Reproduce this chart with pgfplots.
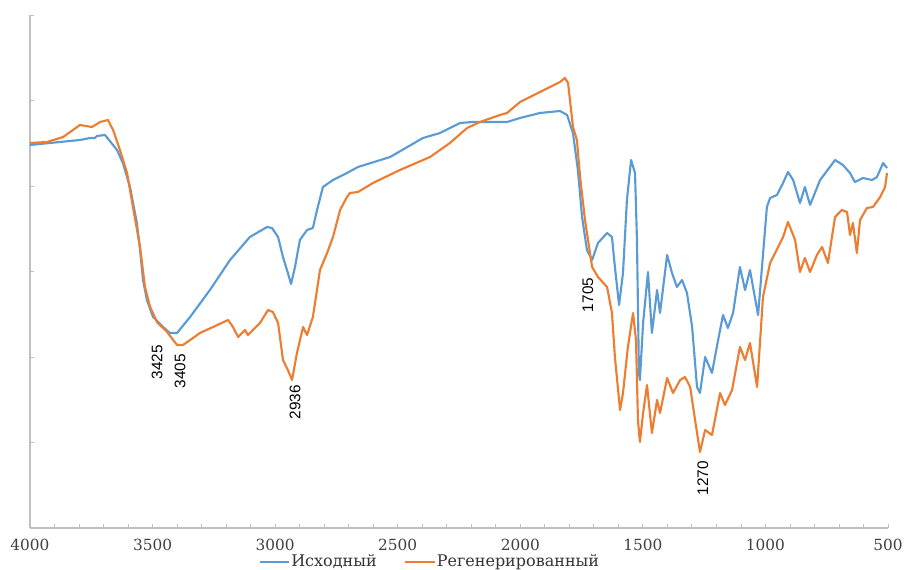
\documentclass[border=0pt]{standalone}
\usepackage{fontspec}
\setmainfont{DejaVu Serif}
\newfontfamily\peakfont{Liberation Sans}
\usepackage{pgfplots}
\pgfplotsset{compat=1.18}
\definecolor{ishod}{HTML}{5B9BD5}
\definecolor{regen}{HTML}{ED7D31}
\definecolor{axgray}{HTML}{BFBFBF}

\begin{document}
\begin{tikzpicture}
\begin{axis}[
    scale only axis,
    width=643.5pt, height=384.75pt,
    x dir=reverse,
    xmin=500, xmax=4000,
    ymin=0, ymax=513,
    axis x line*=bottom, axis y line*=left,
    axis line style={-, draw=axgray, line width=0.8pt},
    xtick={500,1000,...,4000},
    minor x tick num=4,
    ytick={0,85.5,171,256.5,342,427.5,513},
    yticklabels={},
    tick align=inside,
    major tick length=3pt, minor tick length=3pt,
    tick style={draw=axgray, line width=0.6pt},
    /pgf/number format/1000 sep={},
    /pgf/number format/assume math mode=true,
    x tick label style={font=\fontsize{11.5}{13}\selectfont, text=black!75, yshift=-4.5pt},
    legend columns=2,
    legend style={at={(axis description cs:0.466,-0.066)}, anchor=center,
        draw=none, fill=none, font=\fontsize{12}{14}\selectfont, text=black!80,
        nodes={inner xsep=1pt}},
    legend image code/.code={\draw[#1, line width=1pt] (0pt,0pt) -- (22pt,0pt);},
]
% Исходный
\addplot[color=ishod, line width=1.6pt, line join=round] coordinates {
(4000,383) (3878,386) (3796,388) (3755,390) (3735,390) (3727,392) (3694,393)
(3645,378) (3621,365) (3592,341) (3564,305) (3551,278) (3539,248) (3523,228)
(3498,211) (3457,201) (3429,195) (3400,195) (3347,211) (3266,238) (3184,268)
(3103,291) (3033,301) (3013,300) (2988,291) (2968,271) (2948,255) (2935,244)
(2919,261) (2899,288) (2870,298) (2846,300) (2829,318) (2805,341) (2764,348)
(2707,355) (2662,361) (2531,371) (2397,390) (2327,395) (2246,405) (2193,406)
(2111,406) (2054,406) (2001,410) (1920,415) (1838,417) (1809,413) (1785,395)
(1765,358) (1748,311) (1728,278) (1707,268) (1683,285) (1646,295) (1626,291)
(1614,261) (1597,223) (1581,255) (1565,328) (1548,368) (1532,355) (1524,288)
(1516,155) (1512,148) (1499,205) (1479,256) (1463,195) (1442,238) (1430,215)
(1401,273) (1381,255) (1361,241) (1340,248) (1320,235) (1299,201) (1279,141)
(1267,135) (1246,171) (1218,155) (1193,188) (1173,213) (1153,200) (1132,215)
(1104,261) (1083,238) (1063,258) (1030,213) (1014,261) (994,321) (981,330)
(953,333) (928,345) (908,356) (887,348) (859,325) (839,341) (818,323)
(777,348) (737,361) (716,368) (684,363) (655,355) (635,346) (602,350)
(565,348) (545,351) (520,365) (504,360)
};
\addlegendentry{Исходный\hspace*{20pt}\null}
% Регенерированный
\addplot[color=regen, line width=1.6pt, line join=round] coordinates {
(4000,385) (3931,386) (3865,391) (3796,403) (3747,401) (3714,406) (3682,408)
(3661,398) (3633,378) (3604,355) (3580,321) (3551,281) (3531,241) (3510,221)
(3482,206) (3441,196) (3400,183) (3376,183) (3335,190) (3307,195) (3253,201)
(3192,208) (3172,201) (3151,191) (3123,198) (3111,193) (3062,205) (3029,218)
(3009,216) (2988,205) (2968,168) (2948,158) (2931,148) (2911,175) (2886,201)
(2870,193) (2846,211) (2817,258) (2788,275) (2764,291) (2735,318) (2707,331)
(2695,335) (2662,336) (2601,345) (2491,358) (2368,371) (2287,385) (2217,400)
(2164,406) (2083,413) (2054,415) (2001,426) (1920,436) (1838,446) (1818,450)
(1805,445) (1785,401) (1769,388) (1756,351) (1736,308) (1707,261) (1683,251)
(1646,241) (1626,215) (1614,171) (1593,118) (1581,135) (1561,181) (1540,215)
(1528,188) (1520,108) (1512,86) (1499,115) (1483,143) (1463,95) (1442,128)
(1430,115) (1401,150) (1377,135) (1348,148) (1328,151) (1307,141) (1287,108)
(1267,76) (1246,98) (1218,93) (1185,135) (1165,123) (1136,138) (1104,181)
(1083,168) (1063,185) (1034,141) (1010,231) (981,265) (940,285) (928,291)
(908,306) (879,288) (859,256) (839,270) (818,256) (790,273) (769,281)
(745,265) (716,311) (688,318) (667,316) (655,293) (643,305) (627,275)
(614,308) (586,320) (561,321) (532,331) (512,341) (504,355)
};
\addlegendentry{Регенерированный}
% peak labels
\begin{scope}[every node/.style={rotate=90, font=\peakfont\fontsize{11.5}{12}\selectfont, inner sep=0pt}]
\node at (axis cs:3482,166) {3425};
\node at (axis cs:3388,157) {3405};
\node at (axis cs:2919,126) {2936};
\node at (axis cs:1724,233) {1705};
\node at (axis cs:1255,50) {1270};
\end{scope}
\end{axis}
\pgfresetboundingbox
\path (current axis.south west) ++(-22.5pt,-31.5pt) rectangle ([xshift=12.75pt,yshift=11.25pt]current axis.north east);
\end{tikzpicture}
\end{document}
